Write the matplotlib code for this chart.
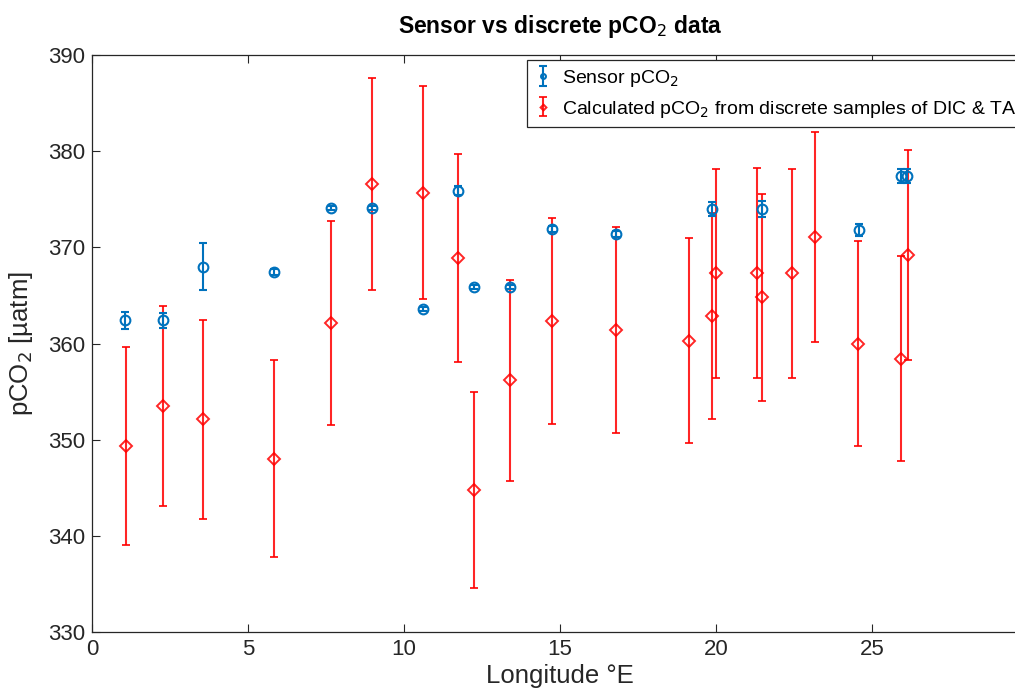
import matplotlib
matplotlib.use("Agg")
import matplotlib.pyplot as plt

# Sensor pCO2
sensor_lon = [1.06, 2.28, 3.56, 5.83, 7.66, 8.97, 10.6, 11.73, 12.24, 13.4, 14.74, 16.8,
              19.87, 21.47, 24.58, 25.93, 26.12]
sensor_pco2 = [362.4, 362.4, 368.0, 367.4, 374.1, 374.1, 363.6, 375.9, 365.9, 365.9, 371.9, 371.4,
               374.0, 374.0, 371.8, 377.4, 377.4]
sensor_err = [0.85, 0.8, 2.4, 0.3, 0.2, 0.2, 0.2, 0.5, 0.2, 0.2, 0.3, 0.3,
              0.75, 0.8, 0.6, 0.7, 0.7]

# Calculated pCO2 from discrete samples
disc_lon = [1.1, 2.28, 3.57, 5.82, 7.65, 8.96, 10.6, 11.74, 12.24, 13.4, 14.74, 16.8,
            19.15, 19.87, 20.0, 21.3, 21.46, 22.45, 23.17, 24.55, 25.94, 26.14]
disc_pco2 = [349.3, 353.5, 352.1, 348.0, 362.1, 376.6, 375.7, 368.9, 344.8, 356.2, 362.3, 361.4,
             360.3, 362.9, 367.3, 367.3, 364.8, 367.3, 371.1, 360.0, 358.4, 369.2]
disc_err = [10.3, 10.4, 10.35, 10.25, 10.6, 11.05, 11.05, 10.8, 10.2, 10.45, 10.7, 10.75,
            10.65, 10.7, 10.85, 10.9, 10.75, 10.85, 10.9, 10.65, 10.65, 10.9]

x_ticks = [0, 5, 10, 15, 20, 25]
y_ticks = [330, 340, 350, 360, 370, 380, 390]

plt.rcParams['font.family'] = ['Liberation Sans', 'DejaVu Sans']
axcol = '#262626'

fig = plt.figure(figsize=(10.15, 6.95), dpi=100)
ax = fig.add_axes([92/1015, 63/695, 936/1015, 577/695])

blue = '#0072BD'
h2 = ax.errorbar(disc_lon, disc_pco2, yerr=disc_err, fmt='D', color='#ff0000', alpha=0.85,
                 mfc='none', mec='#ff0000', ms=6, mew=1.4, elinewidth=1.5, capsize=3, capthick=1.5,
                 zorder=2, label='Calculated pCO$_2$ from discrete samples of DIC & TA')
h1 = ax.errorbar(sensor_lon, sensor_pco2, yerr=sensor_err, fmt='o', color=blue,
                 mfc='none', mec=blue, ms=7, mew=1.5, elinewidth=1.5, capsize=3, capthick=1.5,
                 zorder=3, label='Sensor pCO$_2$')

ax.set_xlim(0, 30)
ax.set_ylim(330, 390)
ax.set_xticks(x_ticks)
ax.set_yticks(y_ticks)
ax.tick_params(direction='in', top=True, right=True, length=6, labelsize=16, colors=axcol, pad=5)
for s in ax.spines.values():
    s.set_color(axcol)
    s.set_linewidth(0.9)

ax.set_xlabel('Longitude °E', fontsize=18.5, color=axcol, labelpad=3)
ax.set_ylabel('pCO$_2$ [µatm]', fontsize=18.5, color=axcol, labelpad=9)
ax.set_title('Sensor vs discrete pCO$_2$ data', fontsize=16.5, fontweight='bold', pad=16)

leg = ax.legend(handles=[h1, h2], loc='upper left', bbox_to_anchor=(527/1015, 1 - 60/695),
                bbox_transform=fig.transFigure, borderaxespad=0, fontsize=14,
                fancybox=False, edgecolor=axcol, framealpha=1, handlelength=0.8,
                handletextpad=0.6, borderpad=0.4, labelspacing=0.5, markerscale=0.5)
leg.get_frame().set_linewidth(0.9)

fig.savefig('out.png', dpi=100)
